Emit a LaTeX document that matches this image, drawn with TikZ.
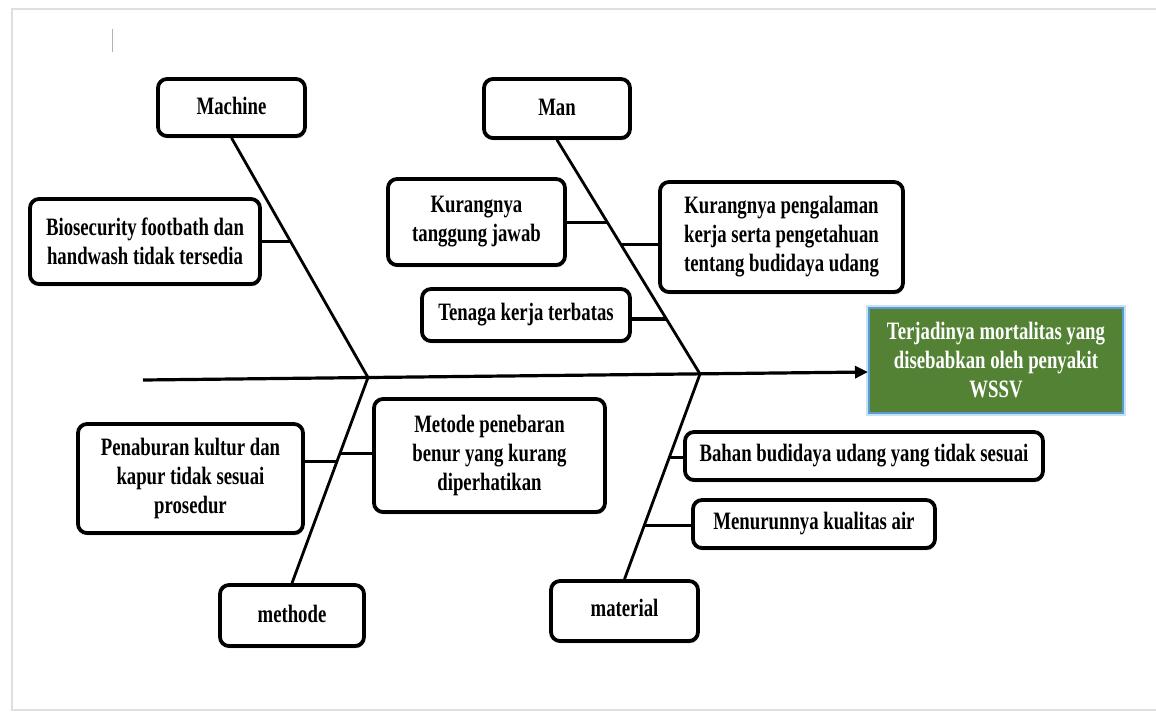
\documentclass[tikz,border=0pt]{standalone}
\usepackage{fontspec}
\setmainfont{Liberation Serif}[FakeStretch=0.75]
\usetikzlibrary{arrows.meta,calc,shadows}
\definecolor{effgreen}{RGB}{84,130,53}
\definecolor{effblue}{RGB}{91,155,213}
\definecolor{effglow}{RGB}{200,225,245}
\begin{document}
\begin{tikzpicture}[x=1pt,y=-1pt,
  box/.style={draw=black, line width=3.8pt, rounded corners=9pt, fill=white,
    align=center, inner sep=0pt,
    font=\fontsize{25}{29}\selectfont\bfseries,
    drop shadow={shadow xshift=0.8pt, shadow yshift=-2.2pt, fill=black, opacity=0.45}},
  effbox/.style={draw=effblue, line width=2pt, fill=effgreen, text=white,
    align=center, inner sep=0pt,
    font=\fontsize{25}{29}\selectfont\bfseries,
    preaction={draw=effglow, line width=6pt}},
  bone/.style={line width=2.8pt, black},
  branch/.style={line width=3.6pt, black},
  spine/.style={line width=3.2pt, black, -{Triangle[length=13pt,width=12pt]}},
  frame/.style={draw=gray!25, line width=2pt}
]
\path[use as bounding box, fill=white] (0,0) rectangle (1156,712);
\draw[frame] (1156,9) -- (12,9) -- (12,710) -- (1156,710);
\draw[gray!60, line width=0.9pt] (112,29) -- (112,52);

% category boxes
\node[box, minimum width=147pt, minimum height=57pt] (machine) at (231.5,107.5) {\raisebox{4pt}{Machine}};
\node[box, minimum width=146pt, minimum height=59pt] (man) at (557,108.5) {\raisebox{3pt}{Man}};
\node[box, minimum width=144pt, minimum height=61pt] (methode) at (292,615.5) {\raisebox{4pt}{methode}};
\node[box, minimum width=147pt, minimum height=60pt] (material) at (624.5,611) {\raisebox{7pt}{material}};

% cause boxes
\node[box, minimum width=230pt, minimum height=85pt] (bio) at (145,241.5) {Biosecurity footbath dan\\handwash tidak tersedia};
\node[box, minimum width=177pt, minimum height=86pt] (kt) at (476.5,222) {Kurangnya\\tanggung jawab};
\node[box, minimum width=243pt, minimum height=110pt] (kp) at (781.5,237) {Kurangnya pengalaman\\kerja serta pengetahuan\\tentang budidaya udang};
\node[box, minimum width=208pt, minimum height=52pt] (tenaga) at (526,315) {Tenaga kerja terbatas};
\node[box, minimum width=225pt, minimum height=109pt] (penab) at (190.5,478.5) {Penaburan kultur dan\\kapur tidak sesuai\\prosedur};
\node[box, minimum width=231pt, minimum height=113pt] (metode) at (489.5,455.5) {Metode penebaran\\benur yang kurang\\diperhatikan};
\node[box, minimum width=358pt, minimum height=48pt] (bahan) at (864,456) {Bahan budidaya udang yang tidak sesuai};
\node[box, minimum width=242pt, minimum height=48pt] (menurun) at (814,524) {Menurunnya kualitas air};

% effect
\node[effbox, minimum width=254pt, minimum height=105pt] (effect) at (996,360.5) {Terjadinya mortalitas yang\\disebabkan oleh penyakit\\WSSV};

% spine and joints
\coordinate (spL) at (143,380);
\coordinate (J1) at (368,377.5);
\coordinate (J2) at (700,374);
\draw[spine] (spL) -- ($(effect.west)+(0,11.5)$);

% bones
\draw[bone] (machine.south) -- (J1);
\draw[bone] (man.south) -- (J2);
\draw[bone] (J1) -- (methode.north);
\draw[bone] (J2) -- (material.north);

% branch points
\coordinate (b1) at ($(machine.south)!0.433!(J1)$);
\coordinate (b2) at ($(man.south)!0.352!(J2)$);
\coordinate (b3) at ($(man.south)!0.446!(J2)$);
\coordinate (b4) at ($(man.south)!0.764!(J2)$);
\coordinate (b5) at ($(J1)!0.408!(methode.north)$);
\coordinate (b6) at ($(J1)!0.369!(methode.north)$);
\coordinate (b7) at ($(J2)!0.408!(material.north)$);
\coordinate (b8) at ($(J2)!0.738!(material.north)$);

\draw[branch] (bio.east |- b1) -- (b1);
\draw[branch] (kt.east |- b2) -- (b2);
\draw[branch] (b3) -- (b3 -| kp.west);
\draw[branch] (tenaga.east |- b4) -- (b4);
\draw[branch] (penab.east |- b5) -- (b5);
\draw[branch] (b6) -- (b6 -| metode.west);
\draw[branch] (b7) -- (b7 -| bahan.west);
\draw[branch] (b8) -- (b8 -| menurun.west);
\end{tikzpicture}
\end{document}
